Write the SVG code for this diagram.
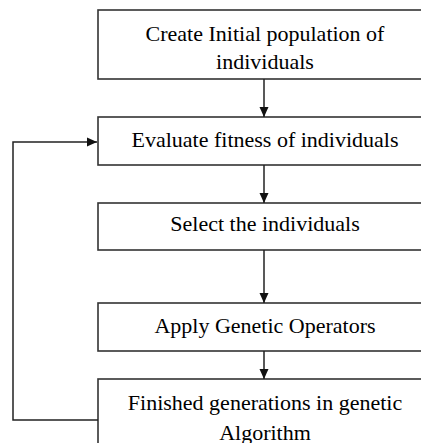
<svg xmlns="http://www.w3.org/2000/svg" width="421" height="443" viewBox="0 0 421 443">
<style>
.box{fill:#fff;stroke:#333;stroke-width:1.6}
.lbl{font-family:"Liberation Serif","Times New Roman",serif;font-size:22px;fill:#000;text-anchor:middle}
.con{fill:none;stroke:#222;stroke-width:1.5}
</style>
<defs>
<marker id="ah" markerWidth="10" markerHeight="10" refX="10" refY="5" orient="auto" markerUnits="userSpaceOnUse" viewBox="0 0 10 10">
<path d="M0,0.5 L10,5 L0,9.5 Z" fill="#111"/>
</marker>
</defs>
<rect width="421" height="443" fill="#fff"/>
<g id="n1"><rect class="box" x="98" y="10" width="340" height="69"/>
<text class="lbl" x="265" y="40.5">Create Initial population of</text>
<text class="lbl" x="265" y="68.5">individuals</text></g>
<g id="n2"><rect class="box" x="98" y="117" width="340" height="48"/>
<text class="lbl" x="265" y="146.5">Evaluate fitness of individuals</text></g>
<g id="n3"><rect class="box" x="98" y="203" width="340" height="47"/>
<text class="lbl" x="265" y="230.5">Select the individuals</text></g>
<g id="n4"><rect class="box" x="98" y="303" width="340" height="48"/>
<text class="lbl" x="265" y="332.5">Apply Genetic Operators</text></g>
<g id="n5"><rect class="box" x="98" y="379" width="340" height="80"/>
<text class="lbl" x="265" y="409.5">Finished generations in genetic</text>
<text class="lbl" x="265" y="440">Algorithm</text></g>
<g id="connectors">
<line class="con" x1="264" y1="79" x2="264" y2="117" marker-end="url(#ah)"/>
<line class="con" x1="264" y1="165" x2="264" y2="203" marker-end="url(#ah)"/>
<line class="con" x1="264" y1="250" x2="264" y2="303" marker-end="url(#ah)"/>
<line class="con" x1="264" y1="351" x2="264" y2="379" marker-end="url(#ah)"/>
<polyline class="con" points="98,420 13,420 13,142 97,142" marker-end="url(#ah)"/>
</g>
</svg>
